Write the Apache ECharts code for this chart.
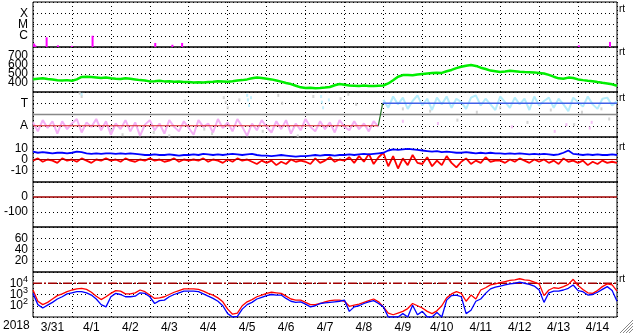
<!DOCTYPE html>
<html><head><meta charset="utf-8">
<script src="https://cdn.jsdelivr.net/npm/echarts@6/dist/echarts.min.js"></script>
<style>html,body{margin:0;padding:0;background:#fff}#c{width:633px;height:334px}</style>
</head><body><div id="c"></div>
<script>
// ---- data (time in days since 2018-03-31 00:00, 3-hour step) ----
const yearLabel = '2018';
const dayLabels = ['3/31','4/1','4/2','4/3','4/4','4/5','4/6','4/7','4/8','4/9','4/10','4/11','4/12','4/13','4/14'];
const STEP = 0.125;

// X-ray flare spikes: day, log10 flux
const xrayDays = [0.03, 0.06, 0.35, 0.64, 1.0, 1.53, 3.14, 3.58, 3.83, 14.02, 14.82];
const xrayLog  = [-6.7, -6.85, -6.14, -6.85, -6.9, -6.0, -6.64, -6.8, -6.64, -6.85, -6.55];
const xrayTicks = {'-6':'C','-5':'M','-4':'X'};

// Solar wind speed km/s
const speed = [441,448,452,444,438,430,427,432,425,440,468,470,466,462,455,460,
 452,448,445,452,446,440,432,428,418,420,425,418,420,415,417,412,
 410,405,408,405,410,414,420,418,415,420,428,432,440,452,460,455,
 448,440,428,415,400,388,370,352,345,348,342,345,350,356,375,388,
 380,372,370,368,372,366,368,370,372,395,430,470,488,490,486,495,
 500,505,510,515,512,530,545,565,580,592,600,590,570,555,538,530,
 522,528,535,530,525,522,520,518,512,505,490,470,452,448,460,455,
 440,432,425,420,410,402,395,385,370];

// IMF sector: away (pink) before 4/8 21h, toward (light blue) after
const sectorAway = [-0.7,-1.5,-0.5,-1.2,-0.6,-1.7,-0.6,-1.3, -0.8,-0.4,-1.6,-0.7,-1.1,-0.4,-1.4,-0.6,
 -1.8,-0.8,-1.3,-0.5,-1.5,-0.7,-1.9,-0.9, -0.5,-1.4,-0.8,-1.7,-0.5,-1.1,-1.5,-0.6,
 -1.2,-1.8,-0.5,-1.1,-0.8,-1.6,-0.4,-1.2, -0.7,-1.5,-0.4,-1.1,-1.9,-0.8,-1.4,-0.5,
 -1.1,-1.6,-0.6,-1.3,-0.5,-1.7,-0.8,-1.4, -0.4,-1.1,-1.5,-0.6,-1.3,-0.7,-1.6,-0.5,
 -1.1,-1.4,-0.6,-1.3,-0.8,-1.5,-0.6,-1.1];
const sectorToward = [1.3,0.6,1.6,0.9,1.5,0.5,1.2,1.7, 0.8,1.4,0.4,1.5,0.9,1.6,0.6,1.4,
 1.1,0.5,1.5,1.7,0.8,1.4,0.9,0.4, 1.6,1.1,0.6,1.5,0.9,1.4,0.4,1.6,
 0.8,1.2,1.5,0.6,1.4,0.9,0.3,1.5, 1.1,0.7,1.6,0.9,0.5,1.4,1.5,0.8, 1.2];
const towardStartIndex = 72;
const sectorGreyPts = [[1.2,1.9],[1.25,1.6],[4.9,1.5],[4.95,1.1],[5.0,0.6],[5.3,1.3],[6.3,1.7],[6.4,1.0],
 [7.9,1.4],[8.1,1.8],[8.3,0.9],[2.0,-1.4],[2.3,-1.8],[3.1,-1.6],[3.5,-1.9],[4.4,-1.3],[4.6,-1.7],
 [5.9,-1.5],[6.8,-1.9],[9.5,0.5],[10.2,0.3],[11.4,0.2],[12.0,0.6],[13.3,0.4],[14.1,0.2],[14.6,0.5],
 [14.8,-0.4],[10.9,-0.5],[12.7,-0.7],[13.9,-0.9],[7.2,1.6],[3.9,1.2]];
const sectorBluePts = [[5.5,1.7],[5.52,1.3],[5.55,0.8],[5.6,1.5],[7.4,1.6],[7.42,1.1],[7.45,0.6],[7.6,1.3],[1.25,1.8]];
const sectorPinkPts = [[9.5,-0.6],[10.4,-0.8],[12.3,-1.1],[13.4,-1.5],[13.7,-0.9],[14.3,-1.2],[14.35,-0.7]];
const sectorBoundary = [[0,-1],[8.87,-1],[8.98,1],[15,1]];

// IMF Bt (blue) and Bz (red), nT
const bt = [7,6,6.5,6,5.5,6,6,5.5, 6,7,6.5,5.5,5,5.5,5,5.5, 5.5,5,5.5,5,5.5,5,4.5,4,
 4,4.5,4,4,4.5,4,3.5,4, 4,4.5,4,5,4.5,4,4.5,4, 4.5,5,4.5,4,4.5,5,4,3.5,
 3.5,3,3.5,4,3.5,3,2.5,3, 3,3.5,4,3.5,4,4,3.5,4, 4,4.5,4,4.5,5,4.5,5,5.5,
 6,8,9,8.5,9,9.5,9,8.5, 8,7.5,7,7.5,6.5,7,6.5,6, 6,6.5,6,5.5,6,5.5,6,5.5,
 5.5,5,5.5,5,5.5,5,4.5,5, 4.5,5,4.5,4,4.5,6,8,5, 4.5,4,4.5,4,4.5,4,4,4.5,4];
const bz = [-1,1,-2,0,-1,-3,1,-1, 0,-2,1,-1,-3,0,-1,1, -1,0,-2,1,-1,-2,0,-1,
 1,-1,0,-2,-1,1,-2,0, -1,0,-1,1,-2,0,-1,-3, 0,-2,1,-1,0,-2,-4,-1,
 -3,-1,-5,-2,-4,0,-2,-1, -2,-4,1,-3,-1,2,-2,0, -1,2,-3,3,-2,5,-4,2,
 6,-6,3,-8,1,-5,4,-3, -4,2,-6,-1,-5,3,-3,-7, -2,1,-4,-1,-3,2,-2,-1,
 -1,-3,0,-2,1,-1,-3,0, -2,0,-3,-1,-4,1,-2,-1, -3,-1,-5,-2,-4,-1,-3,-2,-3];

// Electron flux, log10 (red and blue)
const fluxRed = [3.4,2.4,2.1,2.3,2.6,2.9,3.05,3.25, 3.4,3.5,3.55,3.45,3.2,2.85,2.55,2.8,
 3.1,3.35,3.3,3.05,3.05,3.15,3.4,3.25, 2.95,2.65,2.7,2.8,3.0,3.2,3.35,3.5,
 3.5,3.5,3.45,3.3,3.1,2.95,2.7,2.35, 1.7,1.25,1.35,2.0,2.35,2.55,2.8,2.95,
 3.1,3.2,3.15,3.1,2.85,2.6,2.5,2.5, 2.3,2.1,2.1,2.2,2.35,2.45,2.5,2.5,
 2.4,1.95,2.05,2.15,2.3,2.45,2.6,2.35, 1.9,1.35,1.2,1.35,1.5,1.75,2.2,2.0,
 1.8,1.5,1.3,1.55,2.0,2.7,3.05,3.25, 3.1,2.4,2.95,2.6,3.4,3.6,3.85,3.95,
 4.05,4.15,4.25,4.3,4.4,4.3,4.25,4.1, 3.95,2.9,3.4,3.6,3.55,3.7,3.9,4.35,
 3.8,3.45,3.15,3.1,3.35,3.7,3.95,3.85,3.3];
const fluxBlue = [3.1,2.1,1.8,2.05,2.3,2.6,2.8,3.05, 3.15,3.25,3.25,3.15,2.95,2.6,2.1,1.9,
 2.8,3.1,3.0,2.8,2.8,2.85,3.15,3.1, 2.8,2.2,2.45,2.5,2.8,3.0,3.15,3.3,
 3.3,3.3,3.25,3.05,2.85,2.65,2.4,2.0, 1.3,1.0,1.05,1.7,2.1,2.3,2.6,2.75,
 2.9,3.0,2.95,2.95,2.65,2.4,2.3,2.35, 2.15,1.9,2.0,2.2,2.25,2.3,2.35,2.4,
 2.5,1.5,1.9,2.0,2.2,2.35,2.45,2.2, 1.9,1.0,1.0,1.0,1.3,1.0,2.05,1.2,
 1.5,1.0,1.0,1.4,1.0,2.5,2.9,2.95, 2.8,1.3,1.6,2.4,2.6,3.1,3.5,3.65,
 3.75,3.85,3.95,4.0,4.1,4.0,3.9,3.75, 3.4,2.3,3.15,3.3,3.3,3.4,3.55,3.84,
 3.35,3.25,2.95,3.0,3.2,3.45,3.7,3.35,2.4];
const fluxAlertLevel = 4;

// ---- chart ----
const FONT = 'Liberation Sans';
const pts = (arr, off) => arr.map((v, i) => [(i + (off || 0)) * STEP, v]);
const panels = [
  {min:-7, max:-3, interval:1, fmt: v => xrayTicks[String(v)] || ''},
  {min:300, max:800, interval:100, fmt: v => (v >= 400 && v <= 700) ? String(v) : ''},
  {min:-2, max:2, interval:1, fmt: v => v === 1 ? 'T' : (v === -1 ? 'A' : '')},
  {min:-20, max:20, interval:10, fmt: v => Math.abs(v) <= 10 ? String(v) : ''},
  {min:-200, max:100, interval:100, fmt: v => (v === 0 || v === -100) ? String(v) : ''},
  {min:0, max:80, interval:20, fmt: v => (v >= 20 && v <= 60) ? String(v) : ''},
  {min:1, max:5, interval:1, fmt: v => (v >= 2 && v <= 4) ? '{b|10}{s|' + v + '}' : ''}
];
const TOP0 = 2, H = 45, LEFT = 33, RIGHT = 16;
const dot = {color:'#000', width:1, type:[1,3]};
const grids = [], xAxes = [], yAxes = [];
panels.forEach((p, k) => {
  grids.push({left: LEFT, right: RIGHT, top: TOP0 + H * k, height: H, show: true,
    borderColor: '#000', borderWidth: 1, backgroundColor: 'transparent'});
  xAxes.push({type:'value', gridIndex:k, min:0, max:15, interval:1, position:'bottom',
    axisLine:{show:false}, axisTick:{show:false}, axisLabel:{show:false},
    splitLine:{show:true, lineStyle:dot}});
  yAxes.push({type:'value', gridIndex:k, min:p.min, max:p.max, interval:p.interval,
    axisLine:{show:false}, axisTick:{show:false},
    axisLabel:{color:'#000', fontSize:12, fontFamily:FONT, margin:5, formatter:p.fmt,
      rich:{b:{fontSize:12, fontFamily:FONT, color:'#000'}, s:{fontSize:9, fontFamily:FONT, color:'#000', padding:[0,0,8,0]}}},
    splitLine:{show:true, lineStyle:dot}});
});
xAxes.push({type:'category', gridIndex:6, data:dayLabels, position:'bottom', boundaryGap:true,
  axisLine:{show:false}, axisTick:{show:false}, splitLine:{show:false},
  axisLabel:{color:'#000', fontSize:12, fontFamily:FONT, margin:5, interval:0}});

const line = (k, data, color, width, extra) => Object.assign({type:'line', xAxisIndex:k, yAxisIndex:k,
  data, showSymbol:false, symbol:'none', lineStyle:{color, width}, itemStyle:{color}, silent:true}, extra || {});
const scat = (k, data, color) => ({type:'scatter', xAxisIndex:k, yAxisIndex:k, data,
  symbol:'rect', symbolSize:[2,3], itemStyle:{color}, silent:true});

const series = [
  {type:'custom', xAxisIndex:0, yAxisIndex:0, data: xrayDays.map((d, i) => [d, xrayLog[i]]),
   renderItem: (params, api) => {
     const b = api.coord([api.value(0), -7]); const t = api.coord([api.value(0), api.value(1)]);
     return {type:'rect', shape:{x:b[0]-1, y:t[1], width:2, height:b[1]-t[1]}, style:{fill:'#ff00ff'}};
   }},
  line(1, pts(speed), '#00ee00', 2.5),
  scat(2, sectorGreyPts, '#c8c8c8'),
  line(2, pts(sectorAway), '#f4b0f4', 2),
  line(2, pts(sectorToward, towardStartIndex), '#b4ecfc', 2),
  scat(2, sectorBluePts, '#b4ecfc'),
  scat(2, sectorPinkPts, '#f4b0f4'),
  line(2, [[0,0],[15,0]], '#888888', 1.3),
  line(2, sectorBoundary.slice(0,2), '#d82020', 1.2),
  line(2, sectorBoundary.slice(1,3), '#207020', 1.2),
  line(2, sectorBoundary.slice(2,4), '#4060e8', 1.3),
  line(3, pts(bz), '#ff0000', 1.8),
  line(3, pts(bt), '#0000ff', 1.8),
  line(3, [[0,0],[15,0]], '#a00000', 1),
  line(4, [[0,0],[15,0]], '#a00000', 1.3),
  line(6, [[0,fluxAlertLevel],[15,fluxAlertLevel]], '#a00000', 1.3, {lineStyle:{color:'#a00000', width:1.3, type:[9,2,2,2]}}),
  line(6, pts(fluxRed), '#ff0000', 1.3),
  line(6, pts(fluxBlue), '#0000ff', 1.3)
];

const rtY = [11, 54, 100, 149, 281];
const graphics = rtY.map(y => ({type:'text', left:619, top:y-7,
  style:{text:'rt', fill:'#000', font:'10px ' + FONT}}));
graphics.push({type:'text', left:3, top:320, style:{text:yearLabel, fill:'#000', font:'12px ' + FONT}});
[0,1,2,3].forEach(k => graphics.push({type:'line', shape:{x1:620+3*k, y1:333, x2:633, y2:320+3*k},
  style:{stroke:'#888', lineWidth:1}}));

const chart = echarts.init(document.getElementById('c'), null, {renderer:'canvas'});
chart.setOption({animation:false, backgroundColor:'#fff', grid:grids, xAxis:xAxes, yAxis:yAxes,
  series, graphic:graphics});
</script></body></html>
